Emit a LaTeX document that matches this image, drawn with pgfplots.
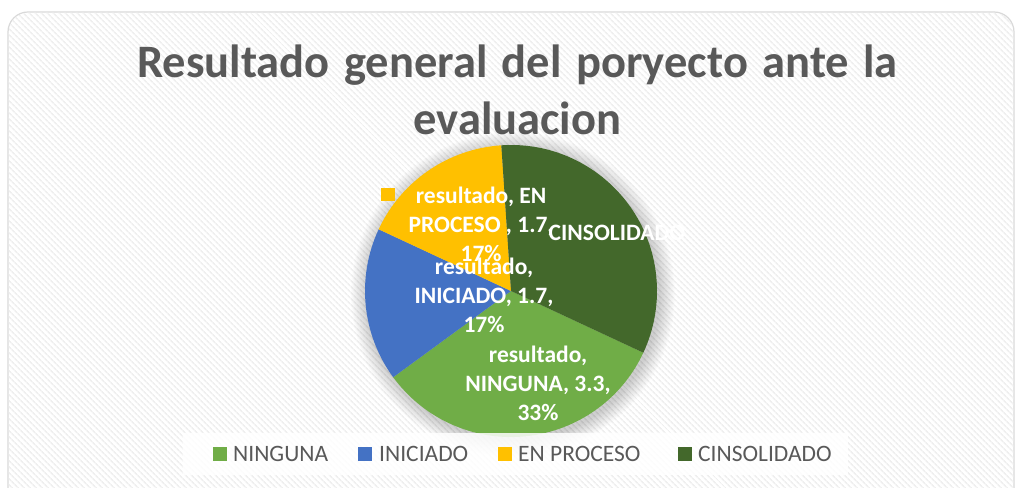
\documentclass[border=0pt]{standalone}
\usepackage{pgfplots}
\pgfplotsset{compat=1.18}
\usepackage{fontspec}
\setmainfont{Carlito}
\usetikzlibrary{patterns.meta}
\definecolor{cNing}{HTML}{70AD47}
\definecolor{cIni}{HTML}{4472C4}
\definecolor{cProc}{HTML}{FFC000}
\definecolor{cCins}{HTML}{43682B}
\definecolor{txtgray}{HTML}{595959}
\definecolor{bordergray}{HTML}{D9D9D9}
\definecolor{stripe}{HTML}{EFEFEF}
\begin{document}
\begin{tikzpicture}
\path[use as bounding box] (0pt,0pt) rectangle (1016pt,487pt);
\fill[white] (0pt,0pt) rectangle (1016pt,487pt);
\begin{scope}
\clip (0pt,0pt) rectangle (1016pt,487pt);
\path[fill=white, draw=bordergray, line width=1.2pt, rounded corners=20pt] (8pt,-30pt) rectangle (1014pt,475pt);
\path[pattern={Lines[angle=-45,distance=4pt,line width=1.7pt]}, pattern color=stripe, rounded corners=20pt] (8.7pt,-30pt) rectangle (1013.3pt,474.3pt);
\end{scope}
% title
\node[anchor=base, inner sep=0pt, text=txtgray, font=\fontsize{46.5}{56}\selectfont\bfseries] at (517.5pt,409pt) {\spaceskip=14.5pt plus 1pt Resultado general del poryecto ante la};
\node[anchor=base, inner sep=0pt, text=txtgray, font=\fontsize{46.5}{56}\selectfont\bfseries] at (517.5pt,352pt) {evaluacion};
% soft shadow of the pie
\foreach \i in {1,...,16}{
  \fill[black, opacity=0.012] (513pt,193pt) circle[radius={146pt+\i pt}];
}
\begin{axis}[
  hide axis, scale only axis, clip=false,
  width=292pt, height=292pt,
  xmin=-1, xmax=1, ymin=-1, ymax=1,
  at={(511pt,196pt)}, anchor=center,
]
\gdef\cum{0}
% values: NINGUNA 3.3, INICIADO 1.7, EN PROCESO 1.7, CINSOLIDADO 3.3 (total 10)
\foreach \v/\c in {3.3/cNing, 1.7/cIni, 1.7/cProc, 3.3/cCins}{
  \pgfmathsetmacro\a{-25-\cum*36}
  \pgfmathsetmacro\b{-25-(\cum+\v)*36}
  \edef\temp{\noexpand\fill[\c] (axis cs:0,0) -- (axis cs:{cos(\a)},{sin(\a)}) arc[start angle=\a, end angle=\b, radius=146pt] -- cycle;}
  \temp
  \pgfmathsetmacro\newcum{\cum+\v}
  \global\let\cum\newcum
}
\node[text=white, align=center, inner sep=0pt, font=\fontsize{23.5}{29}\selectfont\bfseries] at (axis cs:0.185,-0.63) {resultado,\\NINGUNA, 3.3,\\33\%};
\node[text=white, align=center, inner sep=0pt, font=\fontsize{23.5}{29}\selectfont\bfseries] at (axis cs:-0.185,-0.027) {resultado,\\INICIADO, 1.7,\\17\%};
\node[text=white, align=center, inner sep=0pt, font=\fontsize{23.5}{29}\selectfont\bfseries] at (axis cs:-0.205,0.459) {resultado, EN\\PROCESO , 1.7,\\17\%};
\node[fill=cProc, minimum size=13.5pt, inner sep=0pt] at (axis cs:-0.842,0.66) {};
\node[text=white, align=center, inner sep=0pt, font=\fontsize{23.5}{29}\selectfont\bfseries] at (axis cs:0.726,0.395) {CINSOLIDADO};
\end{axis}
% legend
\fill[white, opacity=0.85] (183pt,12pt) rectangle (848pt,54pt);
\fill[cNing] (213pt,26pt) rectangle (227pt,40pt);
\node[anchor=base west, inner sep=0pt, text=txtgray, font=\fontsize{23.5}{28}\selectfont] at (233pt,26pt) {NINGUNA};
\fill[cIni] (358pt,26pt) rectangle (372pt,40pt);
\node[anchor=base west, inner sep=0pt, text=txtgray, font=\fontsize{23.5}{28}\selectfont] at (379pt,26pt) {INICIADO};
\fill[cProc] (498pt,26pt) rectangle (512pt,40pt);
\node[anchor=base west, inner sep=0pt, text=txtgray, font=\fontsize{23.5}{28}\selectfont] at (518pt,26pt) {EN PROCESO};
\fill[cCins] (678pt,26pt) rectangle (692pt,40pt);
\node[anchor=base west, inner sep=0pt, text=txtgray, font=\fontsize{23.5}{28}\selectfont] at (698pt,26pt) {CINSOLIDADO};
\end{tikzpicture}
\end{document}
